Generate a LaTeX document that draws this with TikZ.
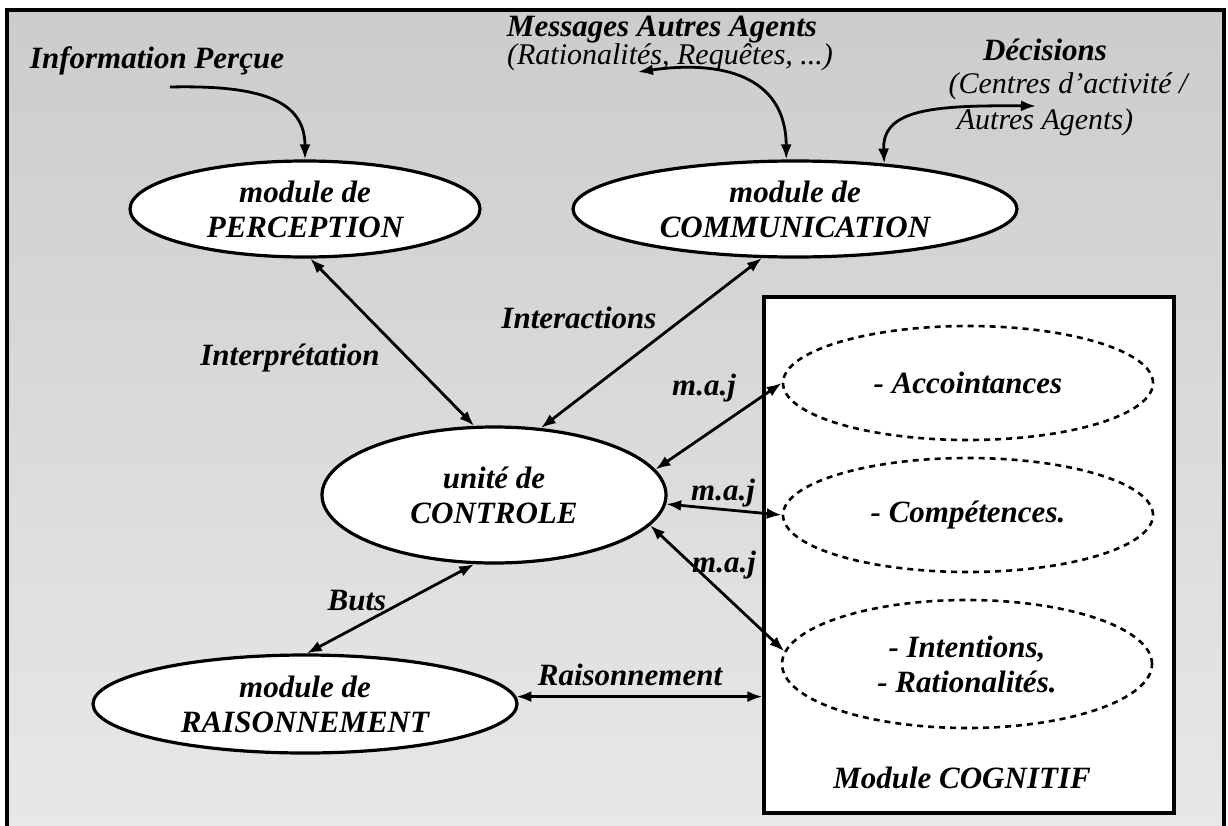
\documentclass[tikz,border=0pt]{standalone}
\usepackage{fontspec}
\setmainfont{Liberation Serif}
\usetikzlibrary{shapes.geometric,arrows.meta}
\begin{document}
\begin{tikzpicture}[x=1pt,y=-1pt,
  every node/.style={font=\fontsize{31}{35}\selectfont\bfseries\itshape, inner sep=0pt},
  modell/.style={ellipse, draw, line width=3.2pt, fill=white, align=center},
  dotell/.style={ellipse, draw, line width=2.6pt, dash pattern=on 6pt off 5pt, align=center},
  lbl/.style={anchor=base},
  ptext/.style={font=\fontsize{30}{34}\selectfont\itshape},
  arr/.style={line width=2.8pt, -{Latex[length=15pt,width=11pt]}},
  darr/.style={line width=2.8pt, {Latex[length=15pt,width=11pt]}-{Latex[length=15pt,width=11pt]}},
]
\useasboundingbox (0,0) rectangle (1228,825);
\clip (0,0) rectangle (1228,825);
\shade[top color=black!20, bottom color=black!9] (7,10) rectangle (1224,835);
\draw[line width=3.2pt] (7,835) -- (7,10) -- (1224,10) -- (1224,835);

% main modules
\node[modell, minimum width=350pt, minimum height=96pt] (perc) at (305,209) {module de\\PERCEPTION};
\node[modell, minimum width=444pt, minimum height=96pt] (comm) at (795,209) {module de\\COMMUNICATION};
\node[modell, minimum width=344pt, minimum height=136pt] (ctrl) at (494,495) {unité de\\CONTROLE};
\node[modell, minimum width=424pt, minimum height=98pt] (rais) at (305,704) {module de\\RAISONNEMENT};

% cognitive module
\node[draw, line width=3.2pt, fill=white, minimum width=410pt, minimum height=516pt] (cog) at (969,555) {};
\node[dotell, minimum width=370pt, minimum height=114pt] (acc) at (968,383) {- Accointances};
\node[dotell, minimum width=370pt, minimum height=114pt] (comp) at (968,515) {- Compétences.};
\node[dotell, minimum width=370pt, minimum height=128pt] (intn) at (967,664) {- Intentions,\\- Rationalités.};
\node[lbl] (cogt) at (962,788) {Module COGNITIF};

% top texts
\node[lbl] (info) at (157,68) {Information Perçue};
\node[lbl] (msg) at (662,36) {Messages Autres Agents};
\node[lbl,ptext] (rat) at (670,64) {(Rationalités, Requêtes, ...)};
\node[lbl] (dec) at (1045,60) {Décisions};
\node[lbl,ptext] (cen) at (1068,93) {(Centres d’activité /};
\node[lbl,ptext] (aut) at (1045,129) {Autres Agents)};

% connector labels
\node[lbl] (interp) at (290,365) {Interprétation};
\node[lbl] (inter) at (579,328) {Interactions};
\node[lbl] (maj1) at (704,395) {m.a.j};
\node[lbl] (maj2) at (723,500) {m.a.j};
\node[lbl] (maj3) at (724,572) {m.a.j};
\node[lbl] (buts) at (357,610) {Buts};
\node[lbl] (raist) at (630,685) {Raisonnement};

% free ends
\coordinate (infostart) at (170,87);
\coordinate (msgend) at (638,72);
\coordinate (decend) at (1036,106);

% connectors
\draw[arr] (infostart) .. controls (260,85) and (305,100) .. (perc.north);
\draw[darr] (msgend) .. controls (720,60) and (786,75) .. (comm.100);
\draw[darr] (comm.27) .. controls (882,110) and (930,105) .. (decend);
\draw[darr] (perc.-84) -- (ctrl.106);
\draw[darr] (comm.-124) -- (ctrl.55);
\draw[darr] (acc.west) -- (ctrl.9.5);
\draw[darr] (ctrl.-3) -- (comp.west);
\draw[darr] (intn.176) -- (ctrl.-11);
\draw[darr] (ctrl.-106) -- (rais.88);
\draw[darr] (rais.2.5) -- (rais.2.5 -| cog.west);
\end{tikzpicture}
\end{document}
